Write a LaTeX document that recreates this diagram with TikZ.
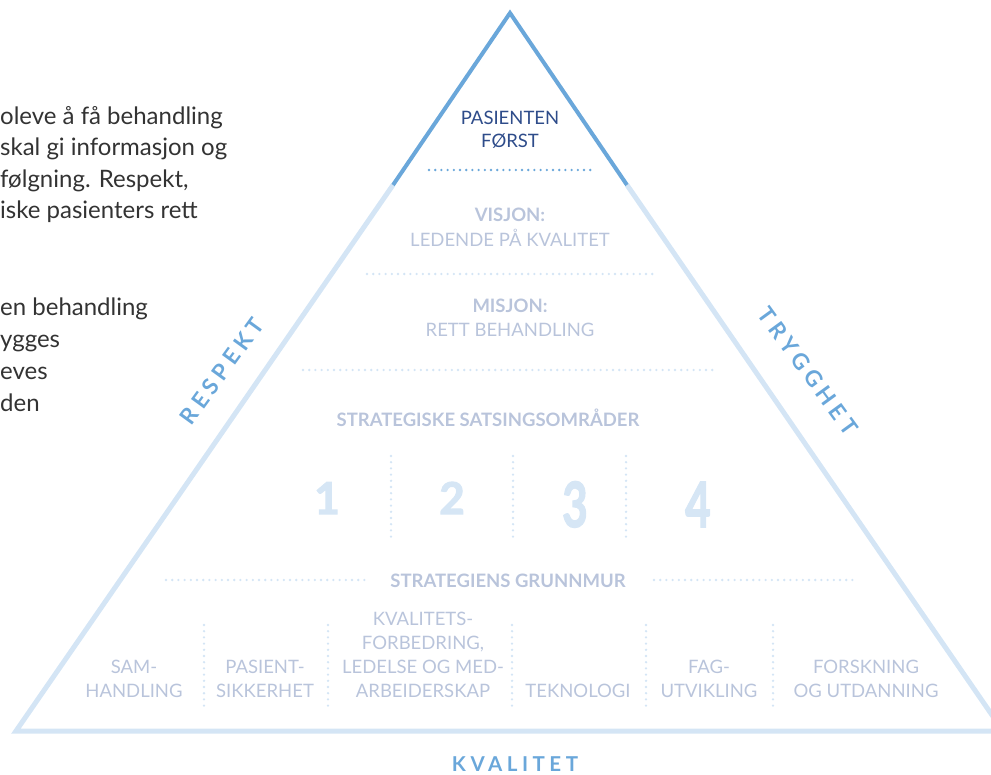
\documentclass[tikz,border=0pt]{standalone}
\usepackage{fontspec}
\setmainfont{Lato}
\newfontfamily\spacedfont[LetterSpace=22]{Lato}
\newfontfamily\numfont[BoldFeatures={FakeBold=2.5}]{Lato}
\definecolor{edgedark}{HTML}{6AA7DA}
\definecolor{edgelite}{HTML}{D4E5F5}
\definecolor{navy}{HTML}{2E4C8A}
\definecolor{labelgrey}{HTML}{B9C4DB}
\definecolor{bodytext}{HTML}{333333}
\definecolor{numblue}{HTML}{D6E6F5}
\tikzset{
  para/.style={anchor=base west, inner sep=0pt, text=bodytext, font=\fontsize{24}{28}\selectfont},
  lbl/.style={anchor=base, inner sep=0pt, text=labelgrey, align=center, font=\fontsize{18.5}{23.7}\selectfont},
  lblbold/.style={lbl, font=\fontsize{18.5}{23.7}\selectfont\bfseries},
  toptext/.style={anchor=base, inner sep=0pt, text=navy, align=center, font=\fontsize{18.5}{23}\selectfont},
  bignum/.style={anchor=base, inner sep=0pt, text=numblue, font=\numfont\fontsize{44}{44}\selectfont\bfseries},
  tallnum/.style={bignum, yscale=1.42, transform shape},
  sidetext/.style={inner sep=0pt, text=edgedark, font=\spacedfont\fontsize{22.5}{22}\selectfont\bfseries},
  dotline/.style={line width=2.6pt, line cap=round, dash pattern=on 0pt off 6.2pt},
  litedots/.style={dotline, edgelite},
  darkdots/.style={dotline, edgedark},
}
\begin{document}
\begin{tikzpicture}[x=1pt,y=-1pt]
\useasboundingbox (0,0) rectangle (991,775);

% pyramid
\coordinate (apex) at (510,13);
\coordinate (bl) at (16,731);
\coordinate (br) at (1003,731);
\coordinate (ml) at (393,185);
\coordinate (mr) at (627,185);
\draw[edgelite, line width=5pt, line join=miter] (ml) -- (bl) -- (br) -- (mr);
\draw[edgedark, line width=4pt, line join=miter] (ml) -- (apex) -- (mr);

% paragraph fragments
\node[para] (p1) at (0,125) {oleve å få behandling};
\node[para] (p2) at (0,156) {skal gi informasjon og};
\node[para] (p3) at (0,188) {følgning. Respekt,};
\node[para] (p4) at (0,219) {iske pasienters rett};
\node[para] (p5) at (0,316) {en behandling};
\node[para] (p6) at (0,348) {ygges};
\node[para] (p7) at (0,380) {eves};
\node[para] (p8) at (0,412) {den};

% top
\node[toptext] (pf) at (510,148) {PASIENTEN\\FØRST};
\coordinate (d1a) at (429,170); \coordinate (d1b) at (591,170);
\draw[darkdots] (d1a) -- (d1b);

\node[lblbold] (vis) at (510,222) {VISJON:};
\node[lbl] (visl) at (510,247) {LEDENDE PÅ KVALITET};
\coordinate (d2a) at (367,274); \coordinate (d2b) at (656,274);
\draw[litedots] (d2a) -- (d2b);

\node[lblbold] (mis) at (510,313) {MISJON:};
\node[lbl] (misl) at (510,337) {RETT BEHANDLING};
\coordinate (d3a) at (303,370); \coordinate (d3b) at (717,370);
\draw[litedots] (d3a) -- (d3b);

\node[lblbold] (strat) at (488,427) {STRATEGISKE SATSINGSOMRÅDER};

\node[bignum] (n1) at (327,514) {1};
\node[bignum] (n2) at (452,514) {2};
\node[tallnum] (n3) at (575,527) {3};
\node[tallnum] (n4) at (698,527) {4};
\foreach \x [count=\i] in {391,513,626}{
  \coordinate (va\i) at (\x,456); \coordinate (vb\i) at (\x,541);
  \draw[litedots] (va\i) -- (vb\i);
}

\node[lblbold] (grunn) at (508,587) {STRATEGIENS GRUNNMUR};
\coordinate (d4a) at (166,580); \coordinate (d4b) at (365,580);
\coordinate (d5a) at (654,580); \coordinate (d5b) at (857,580);
\draw[litedots] (d4a) -- (d4b);
\draw[litedots] (d5a) -- (d5b);

\foreach \x [count=\i] in {204,328,512,646,773}{
  \coordinate (ba\i) at (\x,625); \coordinate (bb\i) at (\x,710);
  \draw[litedots] (ba\i) -- (bb\i);
}
\node[lbl] (b1) at (134,697) {SAM-\\HANDLING};
\node[lbl] (b2) at (265,697) {PASIENT-\\SIKKERHET};
\node[lbl] (b3) at (423,697) {KVALITETS-\\FORBEDRING,\\LEDELSE OG MED-\\ARBEIDERSKAP};
\node[lbl] (b4) at (578,697) {TEKNOLOGI};
\node[lbl] (b5) at (709,697) {FAG-\\UTVIKLING};
\node[lbl] (b6) at (866,697) {FORSKNING\\OG UTDANNING};

% side words
\node[sidetext, rotate=54] (resp) at (222,371) {RESPEKT};
\node[sidetext, rotate=-54] (tryg) at (808,371) {TRYGGHET};
\node[sidetext, anchor=base, font=\spacedfont\fontsize{20.5}{20}\selectfont\bfseries] (kval) at (515,771) {KVALITET};
\end{tikzpicture}
\end{document}
